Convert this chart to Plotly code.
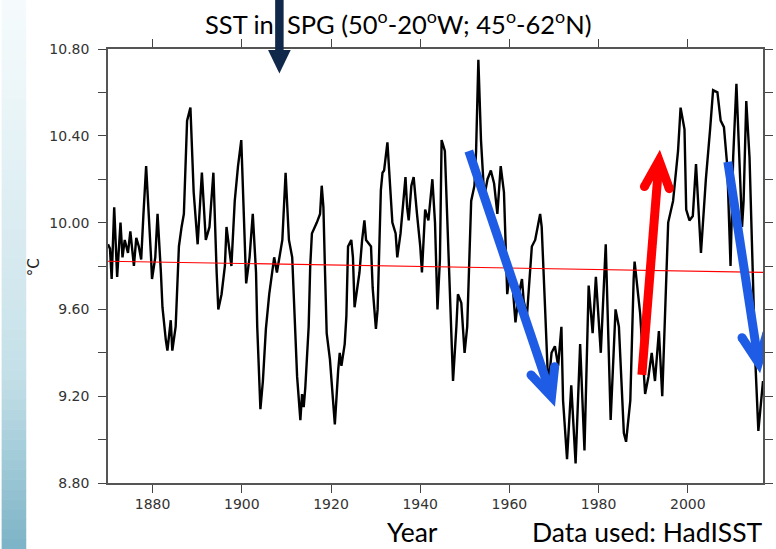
import plotly.graph_objects as go
import math

# ---------------- data ----------------
years = [1870.00, 1870.44, 1870.82, 1871.39, 1872.05, 1872.80, 1873.25, 1873.75, 1874.48, 1875.01,
         1875.81, 1876.34, 1876.91, 1877.44, 1877.95, 1878.55, 1879.65, 1879.87, 1880.60, 1881.11,
         1881.86, 1882.21, 1882.96, 1883.32, 1884.07, 1884.42, 1885.17, 1885.90, 1886.50, 1887.01,
         1887.73, 1888.48, 1889.21, 1890.10, 1891.05, 1891.93, 1892.75, 1893.63, 1894.36, 1894.73,
         1895.46, 1896.21, 1896.57, 1897.67, 1898.42, 1899.15, 1899.88, 1900.63, 1900.98, 1901.74,
         1902.46, 1903.19, 1903.46, 1904.17, 1904.73, 1905.40, 1906.15, 1907.26, 1907.87, 1909.09,
         1909.82, 1910.57, 1911.30, 1912.40, 1913.13, 1913.51, 1913.88, 1914.24, 1914.99, 1915.34,
         1915.72, 1916.82, 1917.55, 1917.92, 1918.30, 1918.65, 1919.03, 1919.76, 1920.86, 1921.61,
         1921.96, 1922.34, 1923.07, 1923.45, 1923.82, 1924.55, 1924.92, 1925.28, 1926.38, 1926.98,
         1927.49, 1927.86, 1928.97, 1929.34, 1930.07, 1930.45, 1930.80, 1931.18, 1931.55, 1931.90,
         1932.65, 1933.01, 1933.76, 1934.49, 1934.86, 1935.59, 1936.70, 1937.07, 1937.42, 1938.02,
         1938.53, 1939.28, 1940.01, 1940.39, 1941.11, 1941.84, 1942.73, 1943.32, 1943.70, 1943.87,
         1944.42, 1944.80, 1945.53, 1946.12, 1946.63, 1947.36, 1948.11, 1948.46, 1949.22, 1949.95,
         1950.54, 1951.05, 1951.43, 1952.16, 1952.53, 1953.04, 1953.63, 1954.36, 1955.09, 1955.84,
         1956.57, 1957.30, 1958.05, 1958.78, 1959.38, 1959.51, 1960.26, 1960.61, 1961.36, 1962.09,
         1962.82, 1963.20, 1963.93, 1964.68, 1965.03, 1965.78, 1966.89, 1967.24, 1967.62, 1967.99,
         1968.72, 1969.45, 1970.20, 1970.93, 1971.66, 1972.03, 1972.92, 1973.87, 1974.84, 1975.86,
         1976.83, 1977.77, 1978.66, 1979.39, 1980.49, 1981.60, 1982.70, 1983.80, 1984.55, 1985.66,
         1986.16, 1987.11, 1987.86, 1988.07, 1989.32, 1990.43, 1991.18, 1991.91, 1992.64, 1993.52,
         1994.27, 1995.22, 1995.60, 1996.70, 1997.81, 1998.38, 1999.26, 1999.64, 2000.37, 2001.12,
         2001.84, 2002.95, 2004.05, 2005.00, 2005.67, 2006.64, 2007.37, 2008.10, 2008.85, 2009.58,
         2010.17, 2010.90, 2011.41, 2012.16, 2012.51, 2013.11, 2013.84, 2014.37, 2015.10, 2015.82,
         2016.57, 2016.86]

sst = [9.90, 9.88, 9.74, 10.07, 9.75, 10.00, 9.84, 9.92, 9.86, 9.96,
       9.80, 9.93, 9.89, 9.83, 10.04, 10.26, 9.84, 9.74, 9.84, 10.04,
       9.77, 9.61, 9.46, 9.41, 9.55, 9.41, 9.52, 9.89, 9.98, 10.04,
       10.47, 10.53, 10.14, 9.90, 10.23, 9.92, 9.98, 10.23, 9.77, 9.60,
       9.67, 9.80, 9.98, 9.80, 10.10, 10.26, 10.38, 9.98, 9.72, 9.84,
       10.04, 9.77, 9.52, 9.14, 9.27, 9.51, 9.67, 9.84, 9.77, 9.92,
       10.23, 9.92, 9.84, 9.29, 9.09, 9.21, 9.15, 9.24, 9.52, 9.80,
       9.95, 10.00, 10.04, 10.17, 10.07, 9.78, 9.49, 9.37, 9.07, 9.32,
       9.40, 9.34, 9.44, 9.57, 9.89, 9.92, 9.84, 9.61, 9.77, 9.92,
       10.01, 9.92, 9.89, 9.70, 9.51, 9.60, 9.83, 10.15, 10.23, 10.24,
       10.37, 10.26, 10.00, 9.95, 9.84, 9.95, 10.21, 10.07, 10.01, 10.17,
       10.21, 10.04, 9.89, 9.77, 10.06, 10.01, 10.20, 10.00, 9.74, 9.60,
       9.83, 10.38, 10.33, 10.00, 9.74, 9.27, 9.52, 9.67, 9.63, 9.40,
       9.52, 9.83, 10.10, 10.17, 10.33, 10.75, 10.38, 10.12, 10.20, 10.24,
       10.18, 10.04, 10.26, 10.14, 9.74, 9.67, 9.80, 9.74, 9.54, 9.67,
       9.74, 9.64, 9.57, 9.78, 9.89, 9.92, 10.04, 9.98, 9.74, 9.61,
       9.24, 9.40, 9.43, 9.34, 9.52, 9.18, 8.91, 9.25, 8.89, 9.44,
       8.95, 9.71, 9.49, 9.75, 9.40, 9.90, 9.09, 9.60, 9.52, 9.03,
       8.99, 9.18, 9.74, 9.82, 9.58, 9.21, 9.29, 9.40, 9.27, 9.50,
       9.20, 9.78, 10.00, 10.10, 10.33, 10.53, 10.43, 10.06, 10.01, 10.03,
       10.27, 9.86, 10.20, 10.43, 10.61, 10.60, 10.47, 10.44, 10.26, 9.80,
       10.30, 10.64, 10.38, 9.98, 10.10, 10.56, 10.30, 9.92, 9.38, 9.04,
       9.21, 9.27]

trend_years = [1870.0, 2016.86]
trend_sst = [9.822, 9.771]

x_tick_vals = [1880, 1900, 1920, 1940, 1960, 1980, 2000]
x_tick_text = ["1880", "1900", "1920", "1940", "1960", "1980", "2000"]
y_tick_vals = [8.8, 9.2, 9.6, 10.0, 10.4, 10.8]
y_tick_text = ["8.80", "9.20", "9.60", "10.00", "10.40", "10.80"]
y_minor_step = 0.2

# trend arrows drawn on the chart (tail -> tip, in year / degC)
arrow_tails = [(1950.9, 10.33), (1989.7, 9.298), (2008.98, 10.28)]
arrow_tips = [(1970.2, 9.152), (1993.74, 10.335), (2016.2, 9.306)]
arrow_colors = ["#1f5ce6", "#ff0000", "#1f5ce6"]

# ---------------- geometry ----------------
W, H = 776, 549
ML, MR, MT, MB = 108, 3, 49, 66
PW, PH = W - ML - MR, H - MT - MB
X_RANGE = [1870.0, 2016.86]
Y_RANGE = [8.8, 10.8]


def to_px(x, y):
    px = ML + (x - X_RANGE[0]) / (X_RANGE[1] - X_RANGE[0]) * PW
    py = MT + (Y_RANGE[1] - y) / (Y_RANGE[1] - Y_RANGE[0]) * PH
    return px, py


def to_data(px, py):
    x = X_RANGE[0] + (px - ML) / PW * (X_RANGE[1] - X_RANGE[0])
    y = Y_RANGE[1] - (py - MT) / PH * (Y_RANGE[1] - Y_RANGE[0])
    return x, y


def pxp(px, py):
    """pixel -> paper coordinates"""
    return (px - ML) / PW, (H - MB - py) / PH


fig = go.Figure()
fig.add_trace(go.Scatter(x=years, y=sst, mode="lines",
                         line=dict(color="black", width=2.4), hoverinfo="skip"))
fig.add_trace(go.Scatter(x=trend_years, y=trend_sst, mode="lines",
                         line=dict(color="#ff0000", width=1.2), hoverinfo="skip"))

shapes = []

# left slide gradient strip
stops = [(0, (246, 251, 253)), (100, (235, 245, 248)), (200, (222, 238, 243)),
         (300, (208, 230, 237)), (380, (194, 222, 231)), (450, (165, 205, 218)),
         (549, (124, 179, 198))]
n_band = 55
for i in range(n_band):
    y0 = H * i / n_band
    y1 = H * (i + 1) / n_band
    ym = (y0 + y1) / 2
    for j in range(len(stops) - 1):
        if stops[j][0] <= ym <= stops[j + 1][0]:
            t = (ym - stops[j][0]) / (stops[j + 1][0] - stops[j][0])
            c = tuple(int(round(stops[j][1][k] + t * (stops[j + 1][1][k] - stops[j][1][k]))) for k in range(3))
            break
    xa, ya = pxp(0, y1 + 0.5)
    xb, yb = pxp(25, y0)
    shapes.append(dict(type="rect", xref="paper", yref="paper", x0=xa, x1=xb, y0=ya, y1=yb,
                       fillcolor="rgb(%d,%d,%d)" % c, line=dict(width=0), layer="below"))

# trend arrows
LW = 9
ARM = 30
HALF = math.radians(25)
for (tx, ty), (hx, hy), col in zip(arrow_tails, arrow_tips, arrow_colors):
    tpx, tpy = to_px(tx, ty)
    hpx, hpy = to_px(hx, hy)
    dx, dy = tpx - hpx, tpy - hpy
    L = math.hypot(dx, dy)
    ux, uy = dx / L, dy / L  # from tip back to tail
    back = (LW / 2) / math.sin(HALF)
    vx, vy = hpx + ux * back, hpy + uy * back  # vertex so miter reaches tip
    sx0, sy0 = to_data(tpx, tpy)
    sx1, sy1 = to_data(vx, vy)
    shapes.append(dict(type="line", xref="x", yref="y", x0=sx0, y0=sy0, x1=sx1, y1=sy1,
                       line=dict(color=col, width=LW), layer="above"))
    arms = []
    for s in (1, -1):
        ca, sa = math.cos(s * HALF), math.sin(s * HALF)
        ax = ux * ca - uy * sa
        ay = ux * sa + uy * ca
        arms.append((vx + ax * ARM, vy + ay * ARM))
    p1 = to_data(*arms[0])
    pv = to_data(vx, vy)
    p2 = to_data(*arms[1])
    shapes.append(dict(type="path", xref="x", yref="y",
                       path="M %f,%f L %f,%f L %f,%f" % (p1[0], p1[1], pv[0], pv[1], p2[0], p2[1]),
                       line=dict(color=col, width=LW), layer="above"))
    for ex, ey in arms:
        cx, cy = to_data(ex, ey)
        shapes.append(dict(type="circle", xref="x", yref="y", xsizemode="pixel", ysizemode="pixel",
                           xanchor=cx, yanchor=cy, x0=-LW / 2, x1=LW / 2, y0=-LW / 2, y1=LW / 2,
                           fillcolor=col, line=dict(width=0), layer="above"))

# dark navy arrow at the top
NAVY = "#10294a"
a0 = pxp(277.7, 50.5)
a1 = pxp(286.3, 0)
shapes.append(dict(type="rect", xref="paper", yref="paper", x0=a0[0], x1=a1[0], y0=a0[1], y1=a1[1],
                   fillcolor=NAVY, line=dict(width=0), layer="above"))
h1 = pxp(270.5, 50)
h2 = pxp(293.5, 50)
h3 = pxp(282, 73.5)
shapes.append(dict(type="path", xref="paper", yref="paper",
                   path="M %f,%f L %f,%f L %f,%f Z" % (h1[0], h1[1], h2[0], h2[1], h3[0], h3[1]),
                   fillcolor=NAVY, line=dict(width=0), layer="above"))

tick_font = dict(family="DejaVu Sans", size=14, color="#333333")
axis_common = dict(showgrid=False, zeroline=False, showline=True, linecolor="#555555", linewidth=1.5,
                   mirror="ticks", ticks="outside", ticklen=8, tickwidth=1, tickcolor="#444444",
                   tickfont=tick_font, fixedrange=True)

fig.update_layout(
    width=W, height=H,
    margin=dict(l=ML, r=MR, t=MT, b=MB, pad=0),
    paper_bgcolor="white", plot_bgcolor="white",
    showlegend=False,
    xaxis=dict(range=X_RANGE, tickmode="array", tickvals=x_tick_vals, ticktext=x_tick_text,
               ticklabelstandoff=-1, **axis_common),
    yaxis=dict(range=Y_RANGE, tickmode="array", tickvals=y_tick_vals, ticktext=y_tick_text,
               ticklabelstandoff=6,
               minor=dict(tickmode="linear", tick0=Y_RANGE[0], dtick=y_minor_step, ticks="outside",
                          ticklen=8, tickwidth=1, tickcolor="#444444", showgrid=False),
               **axis_common),
    shapes=shapes,
)

title_pos = pxp(402.5, 22)
deg_pos = pxp(33, 267)
year_pos = pxp(417, 532)
src_pos = pxp(655.5, 532)
fig.add_annotation(xref="paper", yref="paper", x=title_pos[0], y=title_pos[1],
                   text="SST in  SPG (50<sup>o</sup>-20<sup>o</sup>W; 45<sup>o</sup>-62<sup>o</sup>N)",
                   showarrow=False, xanchor="center", yanchor="middle",
                   font=dict(family="Lato", size=25.5, color="black"))
fig.add_annotation(xref="paper", yref="paper", x=deg_pos[0], y=deg_pos[1], text="°C",
                   textangle=-90, showarrow=False, xanchor="center", yanchor="middle",
                   font=dict(family="DejaVu Sans", size=15, color="#222222"))
fig.add_annotation(xref="paper", yref="paper", x=year_pos[0], y=year_pos[1], text="Year",
                   showarrow=False, xanchor="center", yanchor="middle",
                   font=dict(family="Lato", size=26.5, color="black"))
fig.add_annotation(xref="paper", yref="paper", x=src_pos[0], y=src_pos[1], text="Data used: HadISST",
                   showarrow=False, xanchor="center", yanchor="middle",
                   font=dict(family="Lato", size=26.5, color="black"))

fig.write_html("out.html")
